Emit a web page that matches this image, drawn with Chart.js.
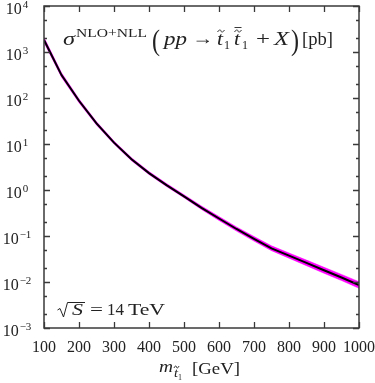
<!DOCTYPE html>
<html>
<head>
<meta charset="utf-8">
<script src="https://cdn.jsdelivr.net/npm/chart.js@4.4.1/dist/chart.umd.min.js"></script>
<style>
  html, body { margin: 0; padding: 0; background: #fff; }
  #wrap { width: 375px; height: 383px; }
</style>
</head>
<body>
<div id="wrap"><canvas id="xsec"></canvas></div>
<script>
// stop mass [GeV] and cross section [pb]
const masses = [100, 150, 200, 250, 300, 350, 400, 450, 500, 550, 600, 650, 700, 750, 800, 850, 900, 950, 1000];
const sigma  = [1830, 315, 87, 28, 10.7, 4.65, 2.33, 1.28, 0.73, 0.41, 0.24, 0.142, 0.087, 0.054, 0.0375, 0.026, 0.018, 0.0125, 0.0086];
// relative width of the magenta error band
const relUp   = [0.14, 0.12, 0.10, 0.09, 0.08, 0.08, 0.08, 0.08, 0.08, 0.09, 0.10, 0.11, 0.12, 0.13, 0.14, 0.15, 0.16, 0.17, 0.18];
const relDown = [0.12, 0.10, 0.09, 0.08, 0.07, 0.07, 0.07, 0.07, 0.07, 0.08, 0.09, 0.10, 0.11, 0.11, 0.12, 0.13, 0.14, 0.14, 0.15];

const xTicks = [100, 200, 300, 400, 500, 600, 700, 800, 900, 1000];
const yExponents = [4, 3, 2, 1, 0, -1, -2, -3];

const FRAME = '#3a3a3a';
const SERIF = '"Liberation Serif", "DejaVu Serif", serif';

function pts(vals) {
    return masses.map((m, i) => ({ x: m, y: vals[i] }));
}

// draw text squeezed/stretched to a given width
function fitText(ctx, txt, font, x, y, w) {
    ctx.font = font;
    const mw = ctx.measureText(txt).width;
    ctx.save();
    ctx.translate(x, y);
    if (w) ctx.scale(w / mw, 1);
    ctx.fillText(txt, 0, 0);
    ctx.restore();
}

function tilde(ctx, cx, cy, w) {
    ctx.save();
    ctx.lineWidth = 0.9;
    ctx.beginPath();
    ctx.moveTo(cx - w / 2, cy + 1);
    ctx.bezierCurveTo(cx - w / 4, cy - 2, cx, cy - 1, cx, cy);
    ctx.bezierCurveTo(cx, cy + 1, cx + w / 4, cy + 2, cx + w / 2, cy - 1);
    ctx.stroke();
    ctx.restore();
}

const decor = {
    id: 'decor',
    afterDraw(chart) {
        const ctx = chart.ctx;
        const a = chart.chartArea;
        const xs = chart.scales.x, ys = chart.scales.y;
        ctx.save();
        ctx.strokeStyle = FRAME;
        ctx.fillStyle = '#222';
        ctx.lineWidth = 1.3;

        // ticks, all four sides, pointing inward
        ctx.beginPath();
        xTicks.forEach(v => {
            const px = Math.round(xs.getPixelForValue(v)) + 0.5;
            ctx.moveTo(px, a.bottom); ctx.lineTo(px, a.bottom - 6);
            ctx.moveTo(px, a.top); ctx.lineTo(px, a.top + 6);
        });
        yExponents.forEach(e => {
            [1, 2, 5].forEach(k => {
                const v = k * Math.pow(10, e);
                if (v > 1e4 || v < 1e-3) return;
                const py = Math.round(ys.getPixelForValue(v)) + 0.5;
                const len = k === 1 ? 6 : 3;
                ctx.moveTo(a.left, py); ctx.lineTo(a.left + len, py);
                ctx.moveTo(a.right, py); ctx.lineTo(a.right - len, py);
            });
        });
        ctx.stroke();
        ctx.lineWidth = 1.5;
        ctx.strokeRect(a.left, a.top, a.right - a.left, a.bottom - a.top);

        // x tick labels
        ctx.textAlign = 'center';
        ctx.textBaseline = 'alphabetic';
        ctx.font = '16px ' + SERIF;
        xTicks.forEach(v => ctx.fillText(String(v), xs.getPixelForValue(v), 352));

        // y tick labels 10^n
        ctx.textAlign = 'left';
        yExponents.forEach(e => {
            const py = ys.getPixelForValue(Math.pow(10, e));
            const ex = e < 0 ? '\u2212' + (-e) : String(e);
            ctx.font = '16px ' + SERIF;
            const w1 = ctx.measureText('10').width;
            ctx.font = '11px ' + SERIF;
            const w2 = ctx.measureText(ex).width;
            const x0 = 17 - (w1 + w2 + 1) / 2;
            ctx.font = '16px ' + SERIF;
            ctx.fillText('10', x0, py + 8);
            ctx.font = '11px ' + SERIF;
            ctx.fillText(ex, x0 + w1 + 1, py + 2);
        });

        // title: sigma^{NLO+NLL} ( pp -> t~1 t~bar1 + X ) [pb]
        ctx.strokeStyle = '#222';
        fitText(ctx, '\u03c3', 'italic 19px ' + SERIF, 63, 45, 12);
        fitText(ctx, 'NLO+NLL', '13px ' + SERIF, 76, 37, 71);
        fitText(ctx, '(', '29px ' + SERIF, 152, 50, 8);
        fitText(ctx, 'pp', 'italic 18px ' + SERIF, 164, 45, 23);
        fitText(ctx, '\u2192', '18px ' + SERIF, 192, 44, 21);
        fitText(ctx, 't', 'italic 18px ' + SERIF, 217, 45, 6);
        tilde(ctx, 221, 31, 7);
        fitText(ctx, '1', '12px ' + SERIF, 224, 49, 6);
        fitText(ctx, 't', 'italic 18px ' + SERIF, 234, 45, 6);
        tilde(ctx, 238, 31, 7);
        ctx.lineWidth = 0.9;
        ctx.beginPath(); ctx.moveTo(234.5, 27.5); ctx.lineTo(241.5, 27.5); ctx.stroke();
        fitText(ctx, '1', '12px ' + SERIF, 242, 49, 6);
        fitText(ctx, '+', '18px ' + SERIF, 256, 45, 14);
        fitText(ctx, 'X', 'italic 18px ' + SERIF, 274, 45, 15);
        fitText(ctx, ')', '29px ' + SERIF, 291, 50, 8);
        fitText(ctx, '[pb]', '18px ' + SERIF, 302, 45, 31);

        // sqrt(S) = 14 TeV
        ctx.lineWidth = 1;
        ctx.beginPath();
        ctx.moveTo(57.5, 310); ctx.lineTo(60, 308.5); ctx.lineTo(63.5, 317);
        ctx.lineTo(67.5, 302.5); ctx.lineTo(85, 302.5);
        ctx.stroke();
        fitText(ctx, 'S', 'italic 17px ' + SERIF, 72, 315, 11);
        fitText(ctx, '=', '17px ' + SERIF, 90, 315, 13);
        fitText(ctx, '14', '17px ' + SERIF, 107, 315, 17);
        fitText(ctx, 'TeV', '17px ' + SERIF, 128, 315, 37);

        // x axis title m_{t~1} [GeV]
        fitText(ctx, 'm', 'italic 17px ' + SERIF, 159, 372, 14);
        fitText(ctx, 't', 'italic 12px ' + SERIF, 174, 377, 4);
        tilde(ctx, 176.5, 367, 5);
        fitText(ctx, '1', '9px ' + SERIF, 178, 380, 4);
        fitText(ctx, '[GeV]', '17px ' + SERIF, 192, 374, 48);
        ctx.restore();
    }
};

const ctx = document.getElementById('xsec').getContext('2d');
const xsecChart = new Chart(ctx, {
    type: 'line',
    data: {
        datasets: [{
            label: 'NLO+NLL',
            data: pts(sigma),
            borderColor: '#000',
            borderWidth: 2,
            fill: false,
            pointRadius: 0,
            order: 0
        }, {
            label: 'upper',
            data: masses.map((m, i) => ({ x: m, y: sigma[i] * (1 + relUp[i]) })),
            borderColor: '#ff00ff',
            borderWidth: 0.5,
            backgroundColor: '#ff00ff',
            fill: '+1',
            pointRadius: 0,
            order: 1
        }, {
            label: 'lower',
            data: masses.map((m, i) => ({ x: m, y: sigma[i] * (1 - relDown[i]) })),
            borderColor: '#ff00ff',
            borderWidth: 0.5,
            fill: false,
            pointRadius: 0,
            order: 2
        }]
    },
    options: {
        responsive: true,
        maintainAspectRatio: false,
        animation: false,
        layout: { padding: { left: 44, right: 16, top: 6, bottom: 55 } },
        elements: { line: { tension: 0 } },
        scales: {
            x: { type: 'linear', min: 100, max: 1000, display: false },
            y: { type: 'logarithmic', min: 1e-3, max: 1e4, display: false }
        },
        plugins: {
            legend: { display: false },
            tooltip: { enabled: false }
        }
    },
    plugins: [decor]
});
</script>
</body>
</html>
